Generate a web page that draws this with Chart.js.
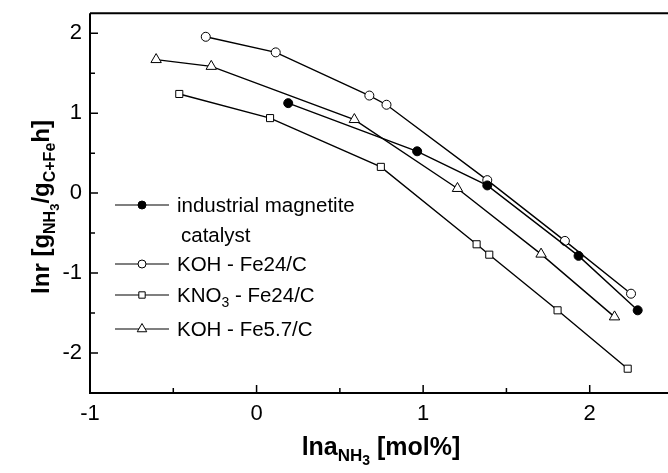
<!DOCTYPE html>
<html>
<head>
<meta charset="utf-8">
<script src="https://cdn.jsdelivr.net/npm/chart.js@4.4.1/dist/chart.umd.min.js"></script>
<style>
  html, body { margin: 0; padding: 0; background: #fff; overflow: hidden; }
  #wrap { width: 680px; height: 473px; }
</style>
</head>
<body>
<div id="wrap"><canvas id="myChart" width="680" height="473"></canvas></div>
<script>
// data: [lna_NH3, lnr]
const industrialX = [0.19, 0.964, 1.385, 1.933, 2.288];
const industrialY = [1.125, 0.523, 0.096, -0.785, -1.466];

const kohFe24X = [-0.305, 0.115, 0.677, 0.78, 1.385, 1.851, 2.248];
const kohFe24Y = [1.955, 1.76, 1.22, 1.105, 0.162, -0.598, -1.258];

const kno3Fe24X = [-0.464, 0.081, 0.746, 1.321, 1.397, 1.807, 2.228];
const kno3Fe24Y = [1.24, 0.938, 0.328, -0.64, -0.77, -1.466, -2.196];

const kohFe57X = [-0.603, -0.272, 0.587, 1.206, 1.708, 2.149];
const kohFe57Y = [1.67, 1.585, 0.92, 0.058, -0.763, -1.548];

const xTicks = [-1, 0, 1, 2];
const yTicks = [-2, -1, 0, 1, 2];

const pts = (xs, ys) => xs.map((x, i) => ({ x: x, y: ys[i] }));

function makeSet(label, xs, ys, style, fill, radius) {
  return {
    label: label,
    data: pts(xs, ys),
    borderColor: "#000",
    borderWidth: 1.4,
    pointStyle: style,
    pointRadius: radius,
    pointBackgroundColor: fill,
    pointBorderColor: "#000",
    pointBorderWidth: 1,
    showLine: true,
    tension: 0,
  };
}

// draw text pieces with subscripts
function richText(ctx, parts, x, y, align) {
  let total = 0;
  parts.forEach(p => {
    ctx.font = (p[3] ? "" : "bold ") + p[1] + "px Arial, 'Liberation Sans', sans-serif";
    total += ctx.measureText(p[0]).width;
  });
  let cx = align === "center" ? x - total / 2 : x;
  parts.forEach(p => {
    ctx.font = (p[3] ? "" : "bold ") + p[1] + "px Arial, 'Liberation Sans', sans-serif";
    ctx.textAlign = "left";
    ctx.textBaseline = "alphabetic";
    ctx.fillText(p[0], cx, y + p[2]);
    cx += ctx.measureText(p[0]).width;
  });
}

const decorPlugin = {
  id: "decor",
  afterDraw(chart) {
    const ctx = chart.ctx;
    const xs = chart.scales.x, ys = chart.scales.y;
    const area = chart.chartArea;
    ctx.save();
    ctx.strokeStyle = "#000";
    ctx.fillStyle = "#000";
    ctx.lineWidth = 2;
    // frame: left, bottom, top
    ctx.beginPath();
    ctx.moveTo(area.left, area.top);
    ctx.lineTo(area.right + 5, area.top);
    ctx.moveTo(area.left, area.top);
    ctx.lineTo(area.left, area.bottom);
    ctx.lineTo(area.right + 5, area.bottom);
    ctx.stroke();

    // inward ticks, major and half-step minor
    ctx.lineWidth = 1.5;
    ctx.beginPath();
    for (let v = -1; v <= 2.5; v += 0.5) {
      const px = xs.getPixelForValue(v);
      const len = Number.isInteger(v) ? 8 : 5;
      ctx.moveTo(px, area.bottom);
      ctx.lineTo(px, area.bottom - len);
    }
    for (let v = -2.5; v <= 2.25; v += 0.5) {
      const py = ys.getPixelForValue(v);
      const len = Number.isInteger(v) ? 8 : 5;
      ctx.moveTo(area.left, py);
      ctx.lineTo(area.left + len, py);
    }
    ctx.stroke();

    // axis titles
    richText(ctx, [["lna", 25, 0], ["NH", 17, 6], ["3", 14, 10], [" [mol%]", 25, 0]], 381, 455, "center");
    ctx.save();
    ctx.translate(49, 207);
    ctx.rotate(-Math.PI / 2);
    richText(ctx, [["lnr [g", 24, 0], ["NH", 16, 6], ["3", 13, 10], ["/g", 24, 0], ["C+Fe", 16, 6], ["h]", 24, 0]], 0, 0, "center");
    ctx.restore();

    // legend
    const rows = [
      { ds: 0, y: 205, text: [["industrial magnetite", 20.5, 0, 1]] },
      { ds: 1, y: 264, text: [["KOH - Fe24/C", 20.5, 0, 1]] },
      { ds: 2, y: 295, text: [["KNO", 20.5, 0, 1], ["3", 14, 5, 1], [" - Fe24/C", 20.5, 0, 1]] },
      { ds: 3, y: 329, text: [["KOH - Fe5.7/C", 20.5, 0, 1]] },
    ];
    rows.forEach(r => {
      const ds = chart.data.datasets[r.ds];
      ctx.lineWidth = 1.2;
      ctx.beginPath();
      ctx.moveTo(115, r.y);
      ctx.lineTo(169, r.y);
      ctx.stroke();
      ctx.fillStyle = ds.pointBackgroundColor;
      ctx.lineWidth = 1;
      Chart.helpers.drawPoint(ctx, { pointStyle: ds.pointStyle, radius: ds.pointRadius - 0.5, borderWidth: 1 }, 142, r.y);
      ctx.fillStyle = "#000";
      richText(ctx, r.text, 177, r.y + 7, "left");
    });
    richText(ctx, [["catalyst", 20.5, 0, 1]], 181, 242, "left");
    ctx.restore();
  }
};

new Chart(document.getElementById("myChart"), {
  type: "scatter",
  data: {
    datasets: [
      makeSet("industrial magnetite catalyst", industrialX, industrialY, "circle", "#000", 4.5),
      makeSet("KOH - Fe24/C", kohFe24X, kohFe24Y, "circle", "#fff", 4.5),
      makeSet("KNO3 - Fe24/C", kno3Fe24X, kno3Fe24Y, "rect", "#fff", 5),
      makeSet("KOH - Fe5.7/C", kohFe57X, kohFe57Y, "triangle", "#fff", 6),
    ],
  },
  plugins: [decorPlugin],
  options: {
    responsive: false,
    animation: false,
    layout: { padding: { top: 13, right: 0, left: 0, bottom: 0 } },
    plugins: {
      legend: { display: false },
      tooltip: { enabled: false },
    },
    scales: {
      x: {
        type: "linear",
        min: -1,
        max: 2.5,
        afterFit: s => { s.height = 80; },
        afterBuildTicks: s => { s.ticks = xTicks.map(v => ({ value: v })); },
        grid: { display: false },
        border: { display: false },
        ticks: {
          color: "#000",
          padding: 0,
          font: { size: 22, family: "Arial, 'Liberation Sans', sans-serif" },
          maxRotation: 0,
        },
      },
      y: {
        type: "linear",
        min: -2.5,
        max: 2.25,
        afterFit: s => { s.width = 90; },
        afterBuildTicks: s => { s.ticks = yTicks.map(v => ({ value: v })); },
        grid: { display: false },
        border: { display: false },
        ticks: {
          color: "#000",
          padding: 0,
          font: { size: 22, family: "Arial, 'Liberation Sans', sans-serif" },
        },
      },
    },
  },
});
</script>
</body>
</html>
